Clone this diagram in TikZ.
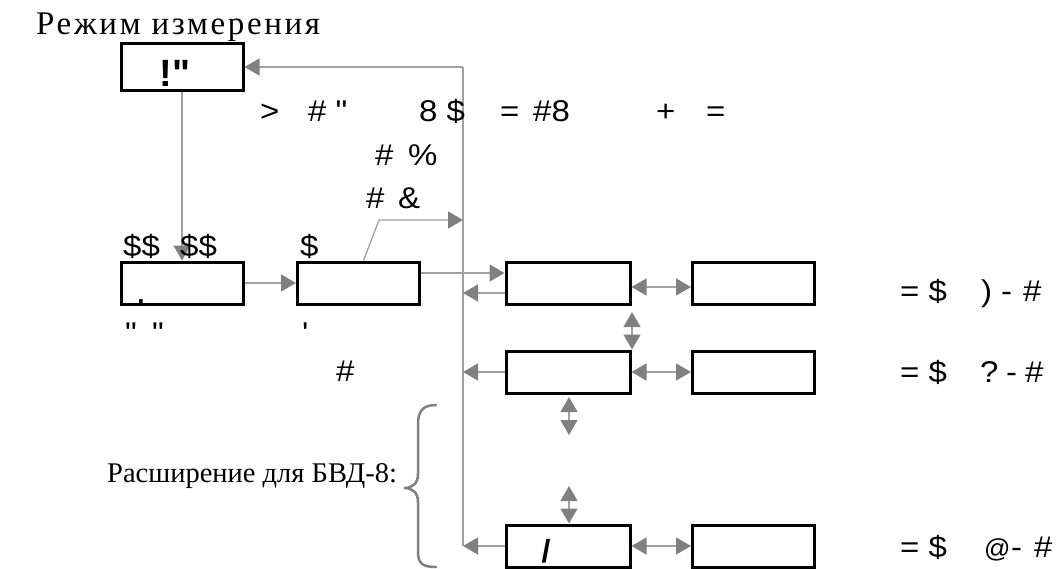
\documentclass[tikz,border=0pt]{standalone}
\usepackage{fontspec}
\setmainfont{Liberation Serif}
\newfontfamily\ttl{Liberation Serif}[LetterSpace=8]
\newfontfamily\lab{Liberation Sans}[Ligatures=TeXOff,FakeStretch=1.1]
\newfontfamily\labb{Liberation Sans}[Ligatures=TeXOff]
\usetikzlibrary{arrows.meta}
\definecolor{lg}{HTML}{A0A0A0}
\definecolor{tg}{HTML}{808080}
\tikzset{
 box/.style={draw=black,line width=3pt,minimum width=122pt,minimum height=42pt,inner sep=0pt},
 arr/.style={draw=lg,line width=1.3pt,-{Triangle[length=15pt,width=17pt,color=tg]}},
 darr/.style={draw=lg,line width=1.3pt,{Triangle[length=15pt,width=17pt,color=tg]}-{Triangle[length=15pt,width=17pt,color=tg]}},
 lbl/.style={font=\lab\fontsize{30}{30}\selectfont,anchor=base west,inner sep=0pt},
 ser/.style={font=\fontsize{28.5}{29}\selectfont,anchor=base west,inner sep=0pt},
 brc/.style={draw=tg,line width=2.5pt,line cap=round},
}
\begin{document}
\begin{tikzpicture}[x=1pt,y=-1pt]
\useasboundingbox (0,0) rectangle (1064,569);
% titles
\node[ser,font=\ttl\fontsize{33}{33}\selectfont] (title) at (36,35) {Режим измерения};
\node[ser] (ext) at (107,482) {Расширение для БВД-8:};
% boxes
\node[box,minimum height=47pt] (b1) at (182,67) {};
\node[font=\labb\bfseries\fontsize{38}{38}\selectfont,anchor=base,inner sep=0pt] (b1t) at (175,87) {!"};
\node[box] (b2) at (182,283) {};
\node[box] (b3) at (358.5,283) {};
\node[box,minimum width=124pt] (b4) at (568,283) {};
\node[box] (b5) at (753.5,283) {};
\node[box,minimum width=124pt] (b6) at (568,372) {};
\node[box] (b7) at (753.5,372) {};
\node[box,minimum width=124pt] (b8) at (568,546) {};
\node[box] (b9) at (753.5,546) {};
\node[font=\labb\bfseries\fontsize{26}{26}\selectfont,anchor=base,inner sep=0pt] (dot) at (141,303) {.};
\node[font=\labb\bfseries\fontsize{32}{32}\selectfont,anchor=base,inner sep=0pt] (sl) at (546,562) {/};
% connector coordinates
\coordinate (vtop) at (463,67);
\coordinate (kink) at (379,220);
\coordinate (b4w) at ([yshift=-10pt]b4.west);
\coordinate (v1) at (632,312);
\coordinate (v2a) at (569,397);
\coordinate (v2b) at (569,435);
\coordinate (v3) at (569,486);
% vertical bus
\draw[draw=lg,line width=1.3pt] (vtop) -- (vtop |- b8.west);
\draw[arr] (vtop) -- (b1.east);
\draw[arr] (b1.south) -- (b1.south |- b2.north);
\draw[arr] (b2.east) -- (b3.west);
\draw[arr] ([xshift=5pt]b3.north) -- (kink) -- (kink -| vtop);
\draw[arr] ([yshift=10pt]b3.east) -- ([yshift=10pt]b4.west);
\draw[arr] (b4w) -- (vtop |- b4w);
\draw[arr] (b6.west) -- (vtop |- b6.west);
\draw[arr] (b8.west) -- (vtop |- b8.west);
\draw[darr] ([yshift=-4pt]b4.east) -- ([yshift=-4pt]b5.west);
\draw[darr] (b6.east) -- (b7.west);
\draw[darr] (b8.east) -- (b9.west);
\draw[darr] (v1) -- (v1 |- b6.north);
\draw[darr] (v2a) -- (v2b);
\draw[darr] (v3) -- (v3 |- b8.north);
% brace
\draw[brc] (436,405) .. controls (422,405) and (418,412) .. (418,425) -- (418,474) .. controls (418,484) and (412,488) .. (404,488) .. controls (412,488) and (418,492) .. (418,502) -- (418,552) .. controls (418,563) and (422,567) .. (436,567);
% labels row 1
\node[lbl] (r1a) at (260,122) {>};
\node[lbl] (r1b) at (308,122) {\# "};
\node[lbl] (r1c) at (419,122) {8 \$};
\node[lbl] (r1d) at (500,122) {=};
\node[lbl] (r1e) at (533,122) {\#8};
\node[lbl] (r1f) at (656,122) {+};
\node[lbl] (r1g) at (706,122) {=};
\node[lbl] (r2a) at (375,166) {\#};
\node[lbl] (r2b) at (408,166) {\%};
\node[lbl] (r3a) at (366,208) {\#};
\node[lbl] (r3b) at (398,208) {\&};
\node[lbl] (d1) at (123,256) {\$\$};
\node[lbl] (d2) at (180,256) {\$\$};
\node[lbl] (d3) at (300,256) {\$};
\node[lbl] (q1) at (125,343) {"};
\node[lbl] (q2) at (152,343) {"};
\node[lbl] (q3) at (302,343) {'};
\node[lbl] (h1) at (336,381) {\#};
% right labels
\node[lbl] (s1a) at (900,301) {= \$};
\node[lbl] (s1b) at (981,301) {)};
\node[lbl] (s1c) at (1001,301) {-};
\node[lbl] (s1d) at (1023,301) {\#};
\node[lbl] (s2a) at (900,382) {= \$};
\node[lbl] (s2b) at (980,382) {?};
\node[lbl] (s2c) at (1006,382) {-};
\node[lbl] (s2d) at (1025,382) {\#};
\node[lbl] (s3a) at (900,557) {= \$};
\node[lbl,font=\labb\fontsize{26}{26}\selectfont] (s3b) at (984,557) {@};
\node[lbl] (s3c) at (1011,557) {-};
\node[lbl] (s3d) at (1034,557) {\#};
\end{tikzpicture}
\end{document}
